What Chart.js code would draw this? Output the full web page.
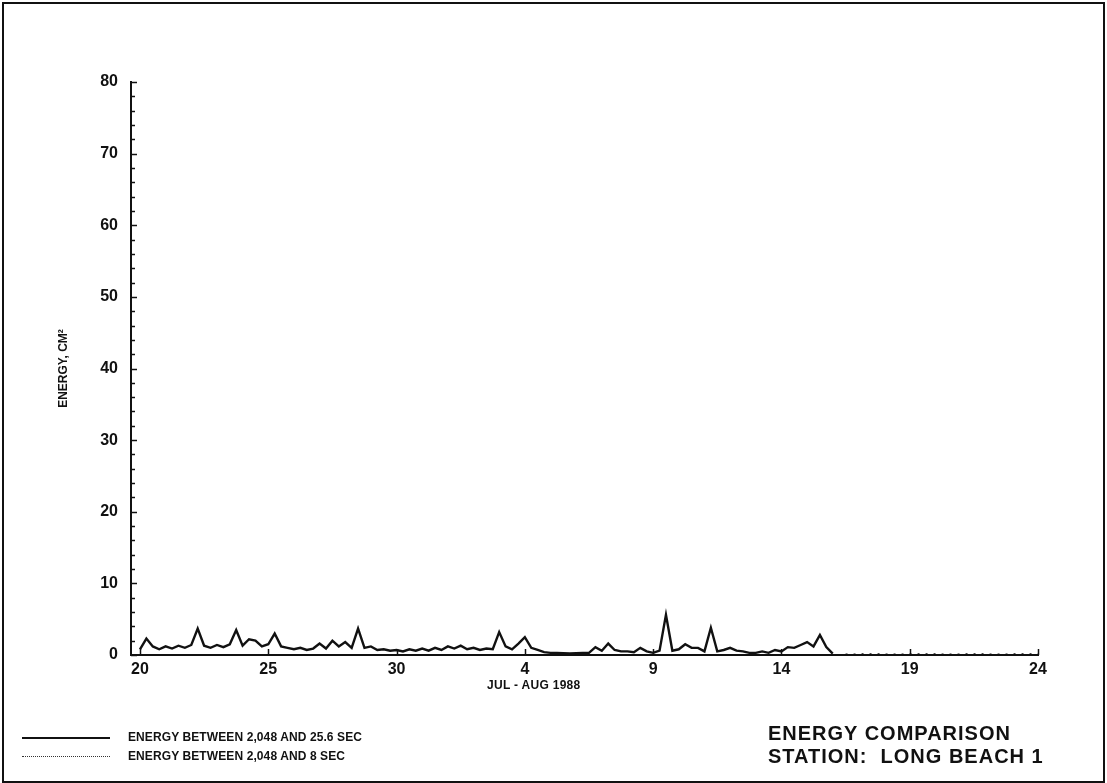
<!DOCTYPE html>
<html>
<head>
<meta charset="utf-8">
<script src="https://cdn.jsdelivr.net/npm/chart.js@4.4.0/dist/chart.umd.min.js"></script>
<style>
  html, body { margin: 0; padding: 0; background: #fff; }
  #wrap { position: relative; width: 1107px; height: 783px; font-family: "Liberation Sans", Arial, sans-serif; font-weight: bold; color: #111; }
  #frame { position: absolute; left: 2px; top: 2px; width: 1099px; height: 777px; border: 2px solid #111; box-sizing: content-box; }
  canvas { position: absolute; left: 0; top: 0; }
  .leg { position: absolute; font-size: 12px; letter-spacing: 0.1px; }
  .legline { position: absolute; left: 22px; width: 88px; height: 0; }
  .ttl { position: absolute; left: 768px; font-size: 20px; letter-spacing: 1px; }
  #xtitle { position: absolute; left: 487px; top: 678px; font-size: 12px; letter-spacing: 0.3px; }
</style>
</head>
<body>
<div id="wrap">
  <canvas id="chart" width="1107" height="783"></canvas>
  <div id="frame"></div>
  <div id="xtitle">JUL - AUG 1988</div>
  <div class="legline" style="top:737px; border-top:2px solid #111;"></div>
  <div class="leg" style="left:128px; top:730px;">ENERGY BETWEEN 2,048 AND 25.6 SEC</div>
  <div class="legline" style="top:756px; border-top:1px dotted #333;"></div>
  <div class="leg" style="left:128px; top:749px;">ENERGY BETWEEN 2,048 AND 8 SEC</div>
  <div class="ttl" style="top:722px;">ENERGY COMPARISON</div>
  <div class="ttl" style="top:745px;">STATION:&nbsp; LONG BEACH 1</div>
</div>
<script>
// days after Jul 20 1988 (0.25 day steps)
const days = [];
for (let i = 0; i <= 108; i++) days.push(i / 4);

// energy between 2,048 and 25.6 sec, cm^2
const energyLong = [
  0.8, 2.3, 1.2, 0.8, 1.2, 0.9, 1.3, 1.0, 1.4, 3.7,
  1.3, 1.0, 1.4, 1.1, 1.5, 3.5, 1.3, 2.2, 2.0, 1.2,
  1.5, 3.0, 1.2, 1.0, 0.8, 1.0, 0.7, 0.9, 1.6, 0.9,
  2.0, 1.2, 1.8, 1.0, 3.7, 1.0, 1.2, 0.7, 0.8, 0.6,
  0.7, 0.5, 0.8, 0.6, 0.9, 0.6, 1.0, 0.7, 1.2, 0.9,
  1.3, 0.8, 1.0, 0.7, 0.9, 0.8, 3.2, 1.2, 0.8, 1.6,
  2.5, 1.0, 0.7, 0.4, 0.3, 0.3, 0.25, 0.2, 0.25, 0.3,
  0.3, 1.1, 0.6, 1.6, 0.7, 0.5, 0.5, 0.4, 1.0, 0.5,
  0.3, 0.6, 5.6, 0.6, 0.8, 1.5, 1.0, 1.0, 0.5, 3.8,
  0.5, 0.7, 1.0, 0.6, 0.5, 0.3, 0.3, 0.5, 0.3, 0.7,
  0.5, 1.1, 1.0, 1.4, 1.8, 1.2, 2.8, 1.1, 0.2
];

// energy between 2,048 and 8 sec (only the dotted tail is visible)
const daysShort = [27.5, 28.5, 29.5, 30.5, 31.5, 32.5, 33.5, 34.5, 35];
const energyShort = [0.1, 0.15, 0.1, 0.15, 0.1, 0.15, 0.1, 0.15, 0.1];

const tickDays = [0, 5, 10, 15, 20, 25, 30, 35];
const tickLabels = ['20', '25', '30', '4', '9', '14', '19', '24'];

const ink = '#111';

// inward tick marks
const innerTicks = {
  id: 'innerTicks',
  afterDraw(chart) {
    const ctx = chart.ctx;
    const x = chart.scales.x, y = chart.scales.y;
    ctx.save();
    ctx.strokeStyle = ink;
    ctx.lineWidth = 1.5;
    for (let v = 0; v <= 80; v += 2) {
      const py = Math.round(y.getPixelForValue(v)) + 0.5;
      const len = v % 10 === 0 ? 6 : 4;
      ctx.beginPath();
      ctx.moveTo(x.left, py);
      ctx.lineTo(x.left + len, py);
      ctx.stroke();
    }
    tickDays.forEach(d => {
      const px = Math.round(x.getPixelForValue(d)) + 0.5;
      ctx.beginPath();
      ctx.moveTo(px, y.bottom);
      ctx.lineTo(px, y.bottom - 6);
      ctx.stroke();
    });
    ctx.restore();
  }
};

new Chart(document.getElementById('chart'), {
  type: 'line',
  data: {
    datasets: [{
      label: 'ENERGY BETWEEN 2,048 AND 25.6 SEC',
      data: days.map((d, i) => ({ x: d, y: energyLong[i] })),
      borderColor: ink,
      borderWidth: 2.4,
      pointRadius: 0,
      tension: 0
    }, {
      label: 'ENERGY BETWEEN 2,048 AND 8 SEC',
      data: daysShort.map((d, i) => ({ x: d, y: energyShort[i] })),
      borderColor: ink,
      borderWidth: 1.5,
      borderDash: [2, 6],
      pointRadius: 0,
      tension: 0
    }]
  },
  options: {
    responsive: false,
    animation: false,
    layout: { padding: { top: 82, right: 69, left: 56, bottom: 0 } },
    plugins: { legend: { display: false }, tooltip: { enabled: false } },
    scales: {
      x: {
        type: 'linear',
        min: -0.35,
        max: 35,
        afterBuildTicks: s => { s.ticks = tickDays.map(v => ({ value: v })); },
        afterFit: s => { s.height = 128; },
        border: { color: ink, width: 2 },
        grid: { display: false, drawTicks: false },
        ticks: {
          padding: 5,
          color: ink,
          font: { family: 'Liberation Sans', size: 16, weight: 'bold' },
          maxRotation: 0,
          callback: (v, i) => tickLabels[i]
        }
      },
      y: {
        min: 0,
        max: 80,
        afterFit: s => { s.width = 75; },
        border: { color: ink, width: 2 },
        grid: { display: false, drawTicks: false },
        ticks: {
          stepSize: 10,
          padding: 13,
          color: ink,
          font: { family: 'Liberation Sans', size: 16, weight: 'bold' }
        },
        title: {
          display: true,
          text: 'ENERGY, CM\u00B2',
          color: ink,
          padding: { top: 0, bottom: 0 },
          font: { family: 'Liberation Sans', size: 12, weight: 'bold' }
        }
      }
    }
  },
  plugins: [innerTicks]
});
</script>
</body>
</html>
